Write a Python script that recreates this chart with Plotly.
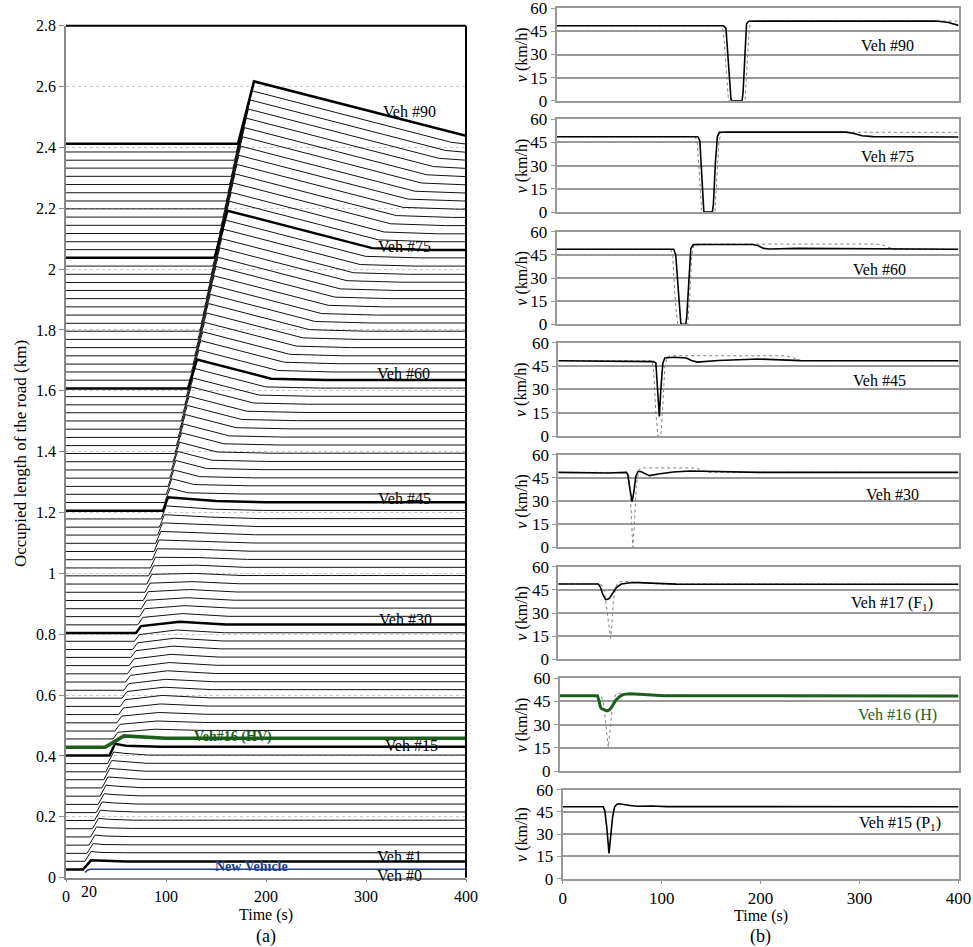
import plotly.graph_objects as go

FONT = "Liberation Serif"

# ---------------- Panel (a): occupied length per vehicle (Veh #1 .. #90) ----------------
VEH_IDS = list(range(1, 91))
Y0 = [0.027, 0.054, 0.080, 0.107, 0.134, 0.161, 0.188, 0.214, 0.241, 0.268,
      0.295, 0.322, 0.348, 0.375, 0.402, 0.429, 0.456, 0.482, 0.509, 0.536,
      0.563, 0.590, 0.616, 0.643, 0.670, 0.697, 0.724, 0.750, 0.777, 0.804,
      0.831, 0.858, 0.884, 0.911, 0.938, 0.965, 0.992, 1.018, 1.045, 1.072,
      1.099, 1.126, 1.152, 1.179, 1.206, 1.233, 1.260, 1.286, 1.313, 1.340,
      1.367, 1.394, 1.420, 1.447, 1.474, 1.501, 1.528, 1.554, 1.581, 1.608,
      1.635, 1.662, 1.688, 1.715, 1.742, 1.769, 1.796, 1.822, 1.849, 1.876,
      1.903, 1.930, 1.956, 1.983, 2.010, 2.037, 2.064, 2.090, 2.117, 2.144,
      2.171, 2.198, 2.224, 2.251, 2.278, 2.305, 2.332, 2.358, 2.385, 2.412]
T_RISE = [17, 19, 21, 23, 24.5, 26.5, 28.4, 30.2, 32.1, 34,
          35.9, 37.8, 39.7, 41.6, 43.5, 39, 47, 48.9, 50.7, 52.5,
          54.2, 56, 57.8, 59.5, 61.3, 63.1, 64.9, 66.6, 68.4, 70,
          71.8, 73.6, 75.4, 77.2, 79, 80.8, 82.6, 84.4, 86.2, 88,
          89.8, 91.6, 93.4, 95.2, 97, 98.7, 100.3, 102, 103.7, 105.3,
          107, 108.7, 110.3, 112, 113.7, 115.3, 117, 118.7, 120.3, 122,
          123.7, 125.3, 127, 128.6, 130.3, 131.9, 133.6, 135.2, 136.9, 138.6,
          140.2, 141.9, 143.5, 145.2, 146.8, 148.5, 150.2, 151.9, 153.5, 155.2,
          156.9, 158.6, 160.3, 161.9, 163.6, 165.3, 167, 168.6, 170.3, 172]
T_TOP = [25, 25, 27, 29, 30.5, 32.5, 34.4, 36.2, 38.1, 40,
         41.9, 43.8, 45.7, 47.6, 49, 58, 52, 53.9, 55.7, 57.5,
         59.2, 61, 62.8, 64.5, 66.3, 68.1, 69.9, 71.6, 73.4, 75,
         76.8, 78.6, 80.4, 82.2, 84, 85.8, 87.6, 89.4, 91.2, 93,
         94.8, 96.6, 98.4, 100.2, 102, 104, 105.8, 107.8, 109.8, 111.6,
         113.6, 115.6, 117.4, 119.4, 121.4, 123.2, 125.2, 127.2, 129, 131,
         133, 134.8, 136.8, 138.6, 140.6, 142.4, 144.4, 146.2, 148.2, 150.1,
         152, 153.9, 155.8, 157.7, 159.6, 161.5, 163.4, 165.3, 167.1, 169.1,
         171, 172.9, 174.8, 176.6, 178.5, 180.4, 182.4, 184.2, 186.1, 188]
TOP_H = [0.030, 0.032, 0.032, 0.033, 0.033, 0.034, 0.034, 0.035, 0.035, 0.036,
         0.036, 0.037, 0.037, 0.038, 0.038, 0.037, 0.022, 0.022, 0.022, 0.022,
         0.022, 0.022, 0.022, 0.022, 0.022, 0.022, 0.022, 0.022, 0.022, 0.023,
         0.0245, 0.026, 0.0275, 0.029, 0.030, 0.032, 0.033, 0.035, 0.036, 0.038,
         0.039, 0.040, 0.041, 0.043, 0.044, 0.047, 0.051, 0.054, 0.058, 0.061,
         0.064, 0.068, 0.071, 0.075, 0.078, 0.081, 0.085, 0.088, 0.092, 0.095,
         0.099, 0.103, 0.106, 0.110, 0.114, 0.118, 0.121, 0.125, 0.129, 0.133,
         0.136, 0.140, 0.144, 0.148, 0.151, 0.155, 0.159, 0.162, 0.166, 0.169,
         0.173, 0.176, 0.180, 0.184, 0.187, 0.191, 0.194, 0.198, 0.201, 0.205]
T_HUMP = [35, 35, 37, 39, 40.5, 42.5, 44.4, 46.2, 48.1, 50,
          51.9, 53.8, 55.7, 57.6, 60, 75, 89, 90.9, 92.7, 94.5,
          96.2, 98, 99.8, 101.5, 103.3, 105.1, 106.9, 108.6, 110.4, 114,
          116.4, 118.8, 121.2, 123.6, 126, 128.4, 130.8, 133.2, 135.6, 138,
          140.4, 142.8, 145.2, 147.6, 150, 121.6, 128.2, 133.7, 140.4, 145.7,
          151.2, 158, 163.3, 170, 175.5, 180.8, 187.6, 193.1, 199.6, 205.1,
          211.8, 218.3, 223.9, 230.4, 237.1, 243.6, 249.1, 255.6, 262.3, 268.9,
          274.4, 281, 287.6, 294.2, 299.6, 306.2, 312.8, 318.2, 324.7, 330.3,
          336.9, 342.3, 348.9, 355.4, 360.9, 367.5, 373, 379.5, 384.9, 391.5]
HUMP_H = [0.029, 0.029, 0.029, 0.030, 0.030, 0.031, 0.031, 0.032, 0.032, 0.033,
          0.033, 0.034, 0.034, 0.034, 0.032, 0.033, 0.032, 0.033, 0.034, 0.035,
          0.036, 0.036, 0.036, 0.037, 0.037, 0.037, 0.037, 0.037, 0.037, 0.037,
          0.037, 0.036, 0.036, 0.036, 0.035, 0.035, 0.035, 0.034, 0.034, 0.034,
          0.033, 0.033, 0.033, 0.032, 0.032, 0.032, 0.032, 0.032, 0.032, 0.032,
          0.032, 0.032, 0.032, 0.032, 0.032, 0.032, 0.032, 0.032, 0.032, 0.032,
          0.032, 0.032, 0.032, 0.032, 0.032, 0.032, 0.032, 0.032, 0.032, 0.032,
          0.032, 0.032, 0.032, 0.032, 0.032, 0.032, 0.032, 0.032, 0.032, 0.032,
          0.032, 0.032, 0.032, 0.032, 0.032, 0.032, 0.032, 0.032, 0.032, 0.032]
T_END = [60, 60, 62, 64, 65.5, 67.5, 69.4, 71.2, 73.1, 75,
         76.9, 78.8, 80.7, 82.6, 94, 100, 137, 138.9, 140.7, 142.5,
         144.2, 146, 147.8, 149.5, 151.3, 153.1, 154.9, 156.6, 158.4, 160,
         162.7, 165.3, 168, 170.7, 173.4, 176, 178.7, 181.4, 184, 186.7,
         189.4, 192, 194.7, 197.4, 200, 176.6, 183.2, 188.7, 195.4, 200.7,
         206.2, 213, 218.3, 225, 230.5, 235.8, 242.6, 248.1, 254.6, 260.1,
         266.8, 273.3, 278.9, 285.4, 292.1, 298.6, 304.1, 310.6, 317.3, 323.9,
         329.4, 336, 342.6, 349.2, 354.6, 361.2, 367.8, 373.2, 379.7, 385.3,
         391.9, 397.3, 400, 400, 400, 400, 400, 400, 400, 400]
END_H = [0.026, 0.028, 0.028, 0.028, 0.028, 0.028, 0.028, 0.028, 0.028, 0.028,
         0.028, 0.028, 0.028, 0.028, 0.028, 0.029, 0.028, 0.028, 0.028, 0.028,
         0.028, 0.028, 0.028, 0.028, 0.028, 0.028, 0.028, 0.028, 0.028, 0.028,
         0.028, 0.028, 0.028, 0.028, 0.028, 0.028, 0.028, 0.028, 0.028, 0.028,
         0.028, 0.028, 0.028, 0.028, 0.028, 0.028, 0.028, 0.028, 0.028, 0.028,
         0.028, 0.028, 0.028, 0.028, 0.028, 0.028, 0.028, 0.028, 0.028, 0.028,
         0.027, 0.027, 0.027, 0.027, 0.027, 0.027, 0.027, 0.027, 0.027, 0.027,
         0.027, 0.027, 0.027, 0.027, 0.027, 0.026, 0.026, 0.026, 0.026, 0.026,
         0.026, 0.026, 0.026, 0.026, 0.026, 0.026, 0.026, 0.026, 0.026, 0.026]
T_MAX = 400

# New vehicle (Veh #0) inserted at t ~ 20 s
NEW_T = [19, 21, 24, 400]
NEW_Y = [0.017, 0.024, 0.028, 0.028]

THICK_VEH = [1, 15, 30, 45, 60, 76, 90]
HV_VEH = 16

LEFT_LABELS = ["Veh #90", "Veh #75", "Veh #60", "Veh #45", "Veh #30", "Veh #15", "Veh #1", "Veh #0"]
LEFT_LABEL_T = [343, 338, 337, 338.5, 339, 345, 333, 333]
LEFT_LABEL_Y = [2.519, 2.074, 1.658, 1.247, 0.850, 0.434, 0.069, 0.007]

# ---------------- Panel (b): speed profiles ----------------
PANEL_NAMES = ["Veh #90", "Veh #75", "Veh #60", "Veh #45", "Veh #30",
               "Veh #17 (F<sub>1</sub>)", "Veh #16 (H)", "Veh #15 (P<sub>1</sub>)"]
PANEL_LABEL_T = [329, 329, 321, 321.5, 334, 333.5, 339, 341]
PANEL_LABEL_V = [36, 36, 35.5, 36, 34, 36, 36, 37]

S90_T = [0, 166, 168.5, 171, 173.5, 174.5, 184.5, 185.5, 187.5, 189, 191, 200, 378, 390, 400]
S90_V = [48.7, 48.7, 47, 20, 1, 0, 0, 5, 35, 50, 51.6, 51.7, 51.7, 50.8, 48.9]
D90_T = [0, 164, 166, 169, 171, 187.5, 189.5, 191.5, 193, 195, 400]
D90_V = [48.7, 48.7, 45, 15, 0, 0, 20, 45, 51.2, 51.7, 51.7]

S75_T = [0, 140.5, 142.5, 144.5, 146, 146.5, 155, 156, 158, 160, 162, 170, 288, 296, 304, 315, 400]
S75_V = [48.7, 48.7, 46, 20, 1, 0, 0, 5, 32, 49, 51.6, 51.7, 51.7, 50.8, 49.3, 48.8, 48.5]
D75_T = [0, 138, 140, 142.5, 144.5, 157.5, 159.5, 161.5, 163.5, 166, 400]
D75_V = [48.7, 48.7, 44, 15, 0, 0, 20, 45, 51.3, 51.7, 51.6]

S60_T = [0, 116.5, 118.5, 121, 123.5, 124.5, 128.5, 129.5, 131.5, 133.5, 136, 145, 195, 200, 206, 212, 240, 300, 400]
S60_V = [48.6, 48.6, 45, 20, 1, 0, 0, 5, 30, 49, 51.6, 51.7, 51.7, 51, 49.2, 48.8, 49.2, 48.8, 48.6]
D60_T = [0, 113.5, 115.5, 118, 120.5, 130.5, 132.5, 134.5, 136.5, 140, 318, 324, 330, 336, 400]
D60_V = [48.6, 48.6, 44, 15, 0, 0, 20, 45, 51.5, 52, 52, 51.5, 50, 48.7, 48.6]

S45_T = [0, 60, 95, 97.5, 99.5, 101, 102.5, 104.5, 106.5, 115, 128, 133, 139, 160, 200, 220, 242, 400]
S45_V = [48.4, 48.3, 47.8, 47, 30, 12.5, 30, 47, 50.2, 50.6, 50.2, 48.5, 47.5, 48.6, 49.5, 49.2, 48.5, 48.4]
D45_T = [0, 93.5, 95.5, 97.5, 99.5, 102.5, 104.5, 106.5, 109, 115, 228, 234, 242, 400]
D45_V = [48.4, 48.4, 40, 15, 0, 0, 20, 45, 51.2, 51.6, 51.6, 50.5, 48.5, 48.4]

S30_T = [0, 30, 50, 68, 69.5, 71.5, 73.8, 75.5, 77.5, 79.5, 82, 86, 91, 100, 115, 132, 160, 200, 400]
S30_V = [48.6, 48.3, 48.2, 48.6, 47, 38, 29.6, 36, 46, 49, 49.3, 48, 46.5, 47.5, 48.8, 49.5, 49.2, 48.6, 48.6]
D30_T = [0, 70, 71.5, 73, 74.5, 76, 78, 80.5, 83, 135, 142, 150, 400]
D30_V = [48.6, 48.6, 40, 15, 0, 15, 40, 50.5, 51.5, 51.5, 50.5, 48.7, 48.6]

S17_T = [0, 40, 42, 44.5, 47, 48.5, 51, 54, 58, 63, 72, 80, 100, 118, 400]
S17_V = [48.8, 48.8, 47, 42, 39, 38.6, 39.5, 42.5, 46.5, 48.8, 49.6, 49.7, 49.2, 48.7, 48.6]
D17_T = [0, 40, 43, 45.5, 48, 50.5, 52.3, 53.5, 55, 57.5, 60, 64, 80, 100, 400]
D17_V = [48.8, 48.8, 48.3, 46, 35, 20, 13.6, 22, 38, 47, 49.8, 50.5, 50, 48.8, 48.6]

S16_T = [0, 37.5, 39, 40.5, 42, 44.5, 47, 49.5, 52.5, 56, 60, 64, 70, 80, 92, 104, 400]
S16_V = [48.7, 48.7, 46, 41.5, 40.2, 39.5, 38.9, 39.5, 42, 45.8, 48.3, 49.6, 50, 49.6, 49, 48.7, 48.6]
D16_T = [0, 41, 43.5, 46, 48.5, 50.5, 53, 56, 59, 66, 80, 400]
D16_V = [48.7, 48.7, 45, 30, 15.3, 28, 44, 49.5, 50.4, 50, 49.2, 48.7]

S15_T = [0, 41, 42.5, 44.5, 46.8, 48.5, 50.5, 52.5, 54.5, 57, 62, 68, 75, 90, 105, 400]
S15_V = [48.5, 48.5, 46, 35, 17.1, 28, 42, 48.5, 50, 50.5, 50.2, 49.4, 48.8, 49, 48.6, 48.5]

SOLID_T = [S90_T, S75_T, S60_T, S45_T, S30_T, S17_T, S16_T, S15_T]
SOLID_V = [S90_V, S75_V, S60_V, S45_V, S30_V, S17_V, S16_V, S15_V]
DOT_T = [D90_T, D75_T, D60_T, D45_T, D30_T, D17_T, D16_T, None]
DOT_V = [D90_V, D75_V, D60_V, D45_V, D30_V, D17_V, D16_V, None]

V_TICKS = [0, 15, 30, 45, 60]
T_TICKS = [0, 100, 200, 300, 400]
Y_TICKS_A = [0, 0.2, 0.4, 0.6, 0.8, 1, 1.2, 1.4, 1.6, 1.8, 2, 2.2, 2.4, 2.6, 2.8]

# ---------------- build figure ----------------
W, H = 973, 947
GREEN = "#1d5e1d"
BLUE = "#233f8f"


def px(x):
    return x / W


def py(y):
    return 1 - y / H


def note(**kw):
    d = dict(showarrow=False, xanchor="center", yanchor="middle")
    d.update(kw)
    return d


fig = go.Figure()

# thin lines first, thick lines on top
order = [v for v in VEH_IDS if v not in THICK_VEH and v != HV_VEH] + THICK_VEH + [HV_VEH]
for v in order:
    i = v - 1
    y0 = Y0[i]
    ts = [0, T_RISE[i], T_TOP[i], T_HUMP[i], T_END[i], T_MAX]
    ys = [y0, y0, y0 + TOP_H[i], y0 + HUMP_H[i], y0 + END_H[i], y0 + END_H[i]]
    if v == HV_VEH:
        line = dict(color=GREEN, width=3.5)
    elif v in THICK_VEH:
        line = dict(color="black", width=2.5)
    else:
        line = dict(color="#111111", width=1)
    fig.add_trace(go.Scatter(x=ts, y=ys, mode="lines", line=line, showlegend=False,
                             hoverinfo="skip", xaxis="x", yaxis="y"))

fig.add_trace(go.Scatter(x=NEW_T, y=NEW_Y, mode="lines", line=dict(color=BLUE, width=1.6),
                         showlegend=False, hoverinfo="skip", xaxis="x", yaxis="y"))

# left axes
LX0, LX1, LYB, LYT = 66, 466, 877.7, 25.7
fig.update_layout(
    xaxis=dict(domain=[px(LX0), px(LX1)], range=[0, 400], tickvals=T_TICKS,
               ticks="outside", ticklen=3, tickcolor="#888", showline=True,
               linecolor="#888", linewidth=1.5, showgrid=False, zeroline=False,
               tickfont=dict(family=FONT, size=16, color="black"), anchor="y"),
    yaxis=dict(domain=[py(LYB), py(LYT)], range=[0, 2.8], tickvals=Y_TICKS_A,
               ticktext=[("%g" % v) for v in Y_TICKS_A],
               ticks="outside", ticklen=5, tickcolor="#888", showline=True,
               linecolor="#888", linewidth=1.5, showgrid=True, gridcolor="#c8c8c8",
               griddash="dot", gridwidth=1, zeroline=False, ticklabeloverflow="allow",
               tickfont=dict(family=FONT, size=16, color="black"), anchor="x"),
)

shapes = [
    dict(type="line", xref="paper", yref="paper", x0=px(LX0), x1=px(LX1), y0=py(LYT), y1=py(LYT),
         line=dict(color="black", width=2)),
    dict(type="line", xref="paper", yref="paper", x0=px(LX1), x1=px(LX1), y0=py(LYB), y1=py(LYT),
         line=dict(color="black", width=2)),
]

annotations = []
for txt, t, y in zip(LEFT_LABELS, LEFT_LABEL_T, LEFT_LABEL_Y):
    annotations.append(note(x=t, y=y, xref="x", yref="y", text=txt,
                            font=dict(family=FONT, size=16, color="black")))
annotations.append(note(x=167, y=0.461, xref="x", yref="y", text="<b>Veh#16 (HV)</b>",
                        font=dict(family=FONT, size=14, color=GREEN)))
annotations.append(note(x=185.7, y=0.036, xref="x", yref="y", text="<b>New Vehicle</b>",
                        font=dict(family=FONT, size=14, color=BLUE)))
annotations.append(note(x=px(89), y=py(891.5), xref="paper", yref="paper", text="20",
                        font=dict(family=FONT, size=16, color="black")))
annotations.append(note(x=px(20), y=py(454), xref="paper", yref="paper",
                        text="Occupied length of the road (km)", textangle=-90,
                        font=dict(family=FONT, size=17, color="black")))
annotations.append(note(x=px(266), y=py(915), xref="paper", yref="paper", text="Time (s)",
                        font=dict(family=FONT, size=16, color="black")))
annotations.append(note(x=px(266), y=py(936), xref="paper", yref="paper", text="(a)",
                        font=dict(family=FONT, size=18, color="black")))

# right panels
P_LEFT = [556.7, 556.7, 556.7, 558.3, 558.3, 558.3, 560, 562.7]
P_RIGHT = 958.5
P_TOP = [8.3, 119.3, 231.7, 342.7, 454.8, 566.7, 678.3, 789.7]
P_BOT = [100.7, 212, 324.3, 436, 547.3, 659.3, 771, 878.7]
GRAY = "#999999"

for k in range(8):
    xa = "x%d" % (k + 2)
    ya = "y%d" % (k + 2)
    if DOT_T[k] is not None:
        fig.add_trace(go.Scatter(x=DOT_T[k], y=DOT_V[k], mode="lines",
                                 line=dict(color="#808080", width=1, dash="dot"),
                                 showlegend=False, hoverinfo="skip", xaxis=xa, yaxis=ya))
    if k == 6:
        sl = dict(color=GREEN, width=3)
    else:
        sl = dict(color="black", width=1.6)
    fig.add_trace(go.Scatter(x=SOLID_T[k], y=SOLID_V[k], mode="lines", line=sl,
                             showlegend=False, hoverinfo="skip", xaxis=xa, yaxis=ya))
    bottom = (k == 7)
    fig.layout["xaxis%d" % (k + 2)] = dict(
        domain=[px(P_LEFT[k]), px(P_RIGHT)], range=[0, 400], tickvals=T_TICKS,
        showticklabels=bottom, ticks="outside" if bottom else "", ticklen=3, tickcolor=GRAY,
        showline=True, linecolor=GRAY, linewidth=2, mirror=True, showgrid=False,
        zeroline=False, ticklabeloverflow="allow",
        tickfont=dict(family=FONT, size=17, color="black"), anchor=ya)
    fig.layout["yaxis%d" % (k + 2)] = dict(
        domain=[py(P_BOT[k]), py(P_TOP[k])], range=[0, 60], tickvals=V_TICKS,
        ticks="outside", ticklen=4, tickcolor=GRAY, showline=True, linecolor=GRAY,
        linewidth=2, mirror=True, showgrid=True, gridcolor=GRAY, gridwidth=2,
        zeroline=False, ticklabeloverflow="allow",
        tickfont=dict(family=FONT, size=17, color="black"), anchor=xa)
    annotations.append(note(x=PANEL_LABEL_T[k], y=PANEL_LABEL_V[k], xref=xa, yref=ya,
                            text=PANEL_NAMES[k],
                            font=dict(family=FONT, size=16, color=GREEN if k == 6 else "black")))
    annotations.append(note(x=px(521.7), y=py((P_TOP[k] + P_BOT[k]) / 2), xref="paper", yref="paper",
                            text="<i>v</i> (km/h)", textangle=-90,
                            font=dict(family=FONT, size=16, color="black")))

annotations.append(note(x=px(760.7), y=py(916), xref="paper", yref="paper", text="Time (s)",
                        font=dict(family=FONT, size=16, color="black")))
annotations.append(note(x=px(760.7), y=py(936), xref="paper", yref="paper", text="(b)",
                        font=dict(family=FONT, size=18, color="black")))

fig.update_layout(width=W, height=H, margin=dict(l=0, r=0, t=0, b=0, autoexpand=False),
                  paper_bgcolor="white", plot_bgcolor="white",
                  shapes=shapes, annotations=annotations, showlegend=False)

fig.write_html("out.html", config={"displayModeBar": False})

# remove the default 8px page margin so the figure sits at the window's top-left corner
with open("out.html", "r", encoding="utf-8") as f:
    html = f.read()
html = html.replace("<head>", "<head><style>html,body{margin:0;padding:0;overflow:hidden;}</style>", 1)
with open("out.html", "w", encoding="utf-8") as f:
    f.write(html)
